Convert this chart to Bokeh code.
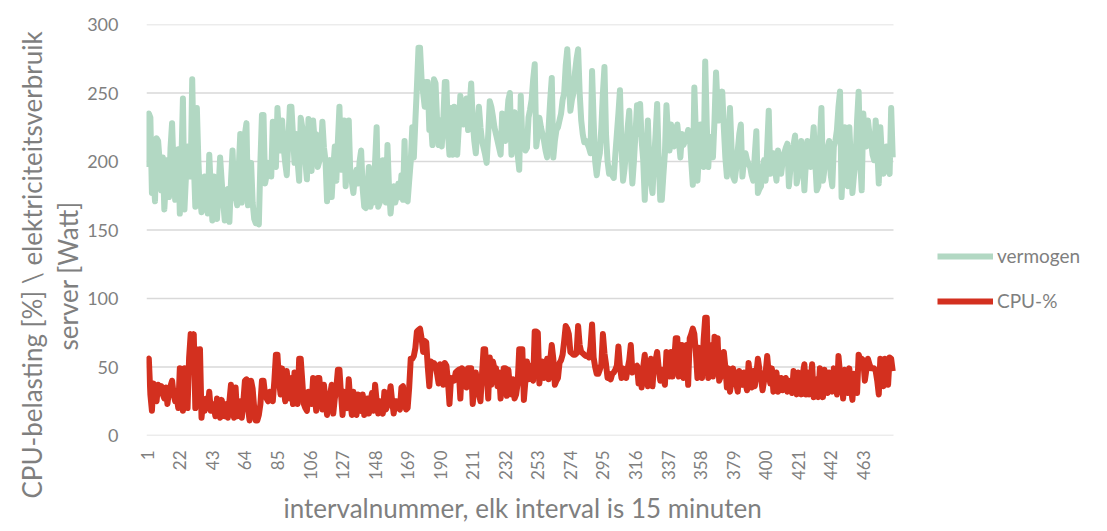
from bokeh.plotting import figure
from bokeh.models import ColumnDataSource, FixedTicker, Legend, LegendItem, Range1d, Title
from bokeh.embed import file_html
from bokeh.resources import INLINE

vermogen = [
    196, 235, 232, 177, 190, 171, 217, 215, 200, 179,
    203, 165, 185, 201, 174, 210, 228, 194, 172, 190,
    209, 162, 200, 246, 165, 190, 211, 195, 189, 260,
    200, 167, 239, 200, 174, 163, 175, 189, 170, 162,
    205, 180, 157, 189, 170, 158, 180, 203, 186, 170,
    157, 170, 180, 156, 185, 208, 182, 175, 168, 195,
    220, 170, 195, 220, 228, 168, 185, 199, 170, 158,
    155, 160, 154, 200, 234, 234, 184, 190, 199, 195,
    189, 229, 210, 196, 239, 220, 208, 230, 210, 199,
    190, 215, 240, 240, 220, 199, 220, 200, 186, 232,
    225, 223, 200, 187, 231, 205, 193, 230, 215, 220,
    196, 200, 206, 229, 210, 201, 171, 190, 201, 174,
    195, 211, 186, 215, 240, 194, 215, 230, 182, 205,
    230, 191, 185, 177, 190, 194, 184, 200, 208, 180,
    167, 166, 180, 196, 167, 175, 170, 200, 225, 167,
    170, 172, 201, 185, 170, 212, 180, 162, 175, 182,
    170, 175, 184, 174, 190, 172, 215, 172, 171, 186,
    200, 225, 203, 230, 255, 283, 283, 260, 250, 240,
    258, 258, 223, 230, 212, 260, 257, 230, 212, 230,
    211, 230, 258, 258, 220, 205, 239, 205, 240, 220,
    205, 225, 248, 235, 227, 235, 246, 223, 240, 257,
    230, 215, 206, 225, 240, 225, 215, 210, 205, 199,
    220, 244, 240, 233, 225, 220, 215, 210, 205, 235,
    225, 215, 230, 245, 250, 205, 220, 236, 215, 205,
    194, 248, 215, 212, 208, 210, 232, 238, 245, 260,
    271, 211, 220, 232, 225, 220, 215, 208, 203, 225,
    245, 261, 203, 215, 223, 225, 230, 235, 245, 250,
    270, 282, 260, 237, 245, 250, 265, 275, 282, 250,
    230, 220, 214, 215, 213, 210, 206, 266, 230, 200,
    190, 200, 206, 225, 250, 269, 220, 200, 191, 195,
    190, 188, 205, 220, 235, 252, 210, 186, 195, 210,
    225, 237, 205, 184, 200, 220, 241, 220, 242, 215,
    201, 172, 200, 230, 198, 185, 177, 201, 220, 242,
    200, 172, 172, 190, 206, 241, 220, 208, 227, 215,
    211, 220, 227, 215, 203, 220, 212, 215, 218, 223,
    220, 200, 183, 254, 220, 186, 205, 227, 210, 196,
    273, 227, 196, 218, 210, 203, 230, 265, 240, 230,
    240, 251, 225, 203, 189, 215, 239, 210, 189, 186,
    195, 208, 220, 227, 189, 200, 206, 201, 198, 196,
    190, 186, 205, 222, 177, 180, 182, 195, 201, 186,
    210, 237, 191, 200, 206, 195, 186, 208, 200, 191,
    200, 206, 210, 213, 182, 195, 206, 212, 219, 184,
    190, 196, 215, 200, 179, 200, 215, 205, 196, 210,
    225, 200, 179, 182, 215, 239, 186, 195, 201, 210,
    215, 190, 182, 211, 215, 223, 240, 251, 174, 200,
    225, 200, 182, 225, 200, 177, 190, 201, 230, 251,
    200, 179, 235, 220, 211, 230, 220, 215, 205, 201,
    230, 210, 184, 225, 205, 191, 200, 211, 195, 191,
    239, 203,
]

cpu = [
    55, 56, 30, 18, 38, 30, 25, 37, 34, 36,
    30, 27, 35, 23, 32, 36, 40, 30, 25, 28,
    20, 49, 30, 18, 49, 35, 20, 57, 74, 65,
    74, 20, 63, 50, 63, 13, 25, 18, 27, 20,
    32, 18, 23, 20, 14, 27, 20, 13, 26, 20,
    14, 23, 13, 25, 37, 20, 13, 35, 14, 20,
    25, 13, 25, 40, 41, 20, 11, 40, 34, 20,
    11, 11, 15, 23, 40, 40, 30, 27, 25, 32,
    28, 25, 40, 59, 59, 40, 30, 49, 35, 25,
    47, 35, 27, 42, 23, 46, 30, 23, 56, 56,
    40, 23, 20, 18, 32, 28, 23, 42, 30, 18,
    42, 42, 30, 19, 37, 25, 15, 27, 30, 37,
    16, 27, 35, 48, 48, 30, 15, 32, 25, 20,
    41, 25, 15, 32, 20, 15, 30, 22, 18, 30,
    15, 22, 27, 16, 25, 31, 18, 37, 25, 16,
    25, 20, 16, 32, 19, 22, 27, 36, 25, 16,
    25, 25, 20, 19, 35, 36, 25, 19, 20, 35,
    56, 56, 58, 64, 76, 77, 78, 71, 61, 69,
    68, 50, 36, 54, 53, 53, 51, 45, 38, 52,
    45, 37, 53, 51, 40, 23, 42, 40, 40, 46,
    47, 48, 27, 49, 48, 40, 35, 49, 49, 49,
    23, 35, 46, 35, 30, 25, 45, 63, 63, 45,
    27, 57, 37, 54, 49, 49, 36, 46, 27, 40,
    49, 49, 29, 48, 35, 30, 41, 27, 30, 38,
    63, 63, 63, 26, 40, 54, 41, 51, 45, 40,
    76, 76, 75, 38, 50, 54, 42, 50, 56, 41,
    55, 66, 56, 37, 40, 42, 53, 55, 59, 69,
    80, 78, 74, 61, 60, 59, 59, 60, 80, 66,
    61, 60, 59, 58, 58, 57, 65, 81, 57, 50,
    45, 45, 48, 52, 74, 60, 52, 42, 45, 41,
    45, 46, 48, 51, 65, 50, 42, 49, 45, 42,
    49, 55, 66, 46, 49, 50, 51, 38, 49, 35,
    50, 59, 43, 36, 50, 56, 36, 52, 55, 61,
    49, 40, 48, 42, 37, 61, 50, 43, 61, 43,
    55, 71, 71, 43, 55, 66, 42, 55, 66, 37,
    71, 74, 78, 74, 60, 42, 64, 50, 42, 70,
    86, 86, 42, 66, 55, 43, 72, 71, 71, 40,
    43, 46, 61, 50, 35, 49, 32, 40, 49, 42,
    38, 32, 47, 40, 37, 46, 38, 33, 53, 40,
    35, 47, 36, 45, 56, 48, 42, 33, 40, 46,
    58, 45, 38, 49, 32, 40, 46, 32, 38, 42,
    33, 38, 42, 32, 40, 36, 31, 47, 38, 30,
    46, 38, 30, 45, 52, 30, 46, 30, 40, 52,
    28, 41, 35, 28, 49, 38, 28, 48, 38, 31,
    46, 38, 32, 49, 40, 30, 58, 45, 41, 27,
    48, 38, 31, 49, 35, 26, 45, 38, 31, 59,
    56, 56, 55, 40, 48, 56, 52, 49, 49, 49,
    47, 40, 30, 56, 45, 36, 56, 45, 37, 57,
    56, 47,
]

x_ticks = [1, 22, 43, 64, 85, 106, 127, 148, 169, 190, 211, 232,
           253, 274, 295, 316, 337, 358, 379, 400, 421, 442, 463]
y_ticks = [0, 50, 100, 150, 200, 250, 300]
series_names = ["vermogen", "CPU-%"]
y_title_1 = "CPU-belasting [%] \\ elektriciteitsverbruik"
y_title_2 = "server [Watt]"
x_title = "intervalnummer, elk interval is 15 minuten"

n = min(len(vermogen), len(cpu))
interval = list(range(1, n + 1))
source = ColumnDataSource(dict(interval=interval, vermogen=vermogen[:n], cpu=cpu[:n]))

FONT = "Lato"
GRAY = "#7F7F7F"

# layout: the frame is extended to the right so that the legend can sit inside it
W, H = 1100, 530
LEFT, RIGHT, TOP, BOTTOM = 146, 5, 24, 95
frame_w = W - LEFT - RIGHT
data_w = 747.0
x_end = 0.5 + n * frame_w / data_w

p = figure(width=W, height=H, output_backend="svg", toolbar_location=None,
           x_range=Range1d(0.5, x_end), y_range=Range1d(0, 300),
           min_border_left=LEFT, min_border_right=RIGHT, min_border_top=TOP,
           min_border_bottom=BOTTOM)
p.outline_line_color = None
p.background_fill_color = "white"
p.xgrid.visible = False
p.ygrid.visible = False

# horizontal gridlines only across the data area
p.segment(x0=[0.5] * len(y_ticks), x1=[n + 0.5] * len(y_ticks), y0=y_ticks, y1=y_ticks,
          line_color="#D9D9D9", line_width=1.5)

r_green = p.line("interval", "vermogen", source=source, line_color="#B2D8C3",
                 line_width=6, line_join="round")
r_red = p.line("interval", "cpu", source=source, line_color="#D3301F",
               line_width=6, line_join="round")

p.yaxis.ticker = FixedTicker(ticks=y_ticks)
p.yaxis.axis_line_color = None
p.yaxis.major_tick_line_color = None
p.yaxis.minor_tick_line_color = None
p.yaxis.major_label_standoff = 22
p.yaxis.major_label_text_font = FONT
p.yaxis.major_label_text_font_size = "18px"
p.yaxis.major_label_text_color = GRAY

p.xaxis.ticker = FixedTicker(ticks=x_ticks)
p.xaxis.major_label_orientation = 1.5707963
p.xaxis.axis_line_color = None
p.xaxis.major_tick_line_color = None
p.xaxis.minor_tick_line_color = None
p.xaxis.major_tick_out = 0
p.xaxis.major_label_standoff = 15
p.xaxis.major_label_text_font = FONT
p.xaxis.major_label_text_font_size = "17px"
p.xaxis.major_label_text_color = GRAY

def make_title(text, **kw):
    return Title(text=text, text_font=FONT, text_font_size="26px",
                 text_font_style="normal", text_color=GRAY, **kw)

p.add_layout(make_title(y_title_2, align="left", offset=85, standoff=0,
                        vertical_align="middle"), "left")
p.add_layout(make_title(y_title_1, align="left", offset=-63, standoff=4,
                        vertical_align="middle"), "left")
p.add_layout(make_title(x_title, align="left", offset=137, standoff=12,
                        vertical_align="bottom"), "below")

legend = Legend(items=[LegendItem(label=series_names[0], renderers=[r_green]),
                       LegendItem(label=series_names[1], renderers=[r_red])],
                location=(791, 123), margin=0, padding=0, spacing=22,
                glyph_width=56, glyph_height=20, label_height=20,
                label_standoff=4, border_line_color=None,
                background_fill_alpha=0,
                label_text_font=FONT, label_text_font_size="19px",
                label_text_color=GRAY)
p.add_layout(legend, "center")

open("out.html", "w").write(file_html(p, INLINE))
